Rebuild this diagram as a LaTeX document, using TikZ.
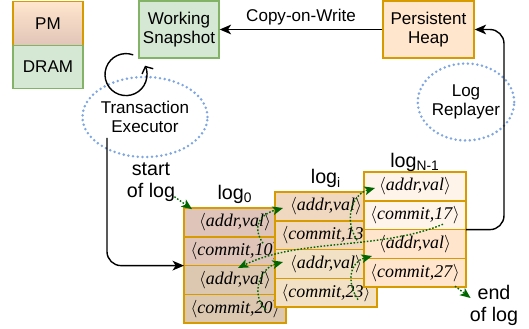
\documentclass[tikz,border=0pt]{standalone}
\usepackage{fontspec}
\setmainfont{Liberation Serif}
\setsansfont{Liberation Sans}
\usepackage{tikz}
\usetikzlibrary{shapes.geometric, arrows.meta, positioning, calc}
\definecolor{pmfill}{HTML}{FFE6CC}
\definecolor{pmdark}{HTML}{E1C5B9}
\definecolor{pmborder}{HTML}{D79B00}
\definecolor{dramfill}{HTML}{D5E8D4}
\definecolor{dramborder}{HTML}{82B366}
\definecolor{dotblue}{HTML}{7EA6E0}
\definecolor{logarrow}{HTML}{006600}
\definecolor{logzero}{HTML}{DFC4B9}
\definecolor{logzerob}{HTML}{DCC8B0}
\definecolor{logone}{HTML}{F0D8C0}
\definecolor{logoneb}{HTML}{F2E1C5}
\definecolor{logtop}{HTML}{FFF4E9}
\definecolor{logtopb}{HTML}{FFE5CC}
\newcommand{\boxfont}{\sffamily\fontsize{9.7}{11}\selectfont}
\newcommand{\labelfont}{\sffamily\fontsize{11.2}{12.5}\selectfont}
\newcommand{\recfont}{\fontsize{10.2}{12}\selectfont}
\newcommand{\logrec}[1]{$\langle$\textit{#1}$\rangle$}

\begin{document}
\begin{tikzpicture}[
    memcell/.style={rectangle, draw=#1, line width=0.8pt, minimum width=1.40cm, minimum height=0.87cm, inner sep=0pt, outer sep=0pt, font=\boxfont},
    unit/.style={rectangle, draw=#1, line width=0.8pt, minimum height=1.14cm, inner sep=0pt, font=\boxfont, align=center},
    worker/.style={ellipse, draw=dotblue, line width=1.6pt, dash pattern=on 0pt off 2.7pt, line cap=round, font=\boxfont, align=center, inner sep=0pt},
    slot/.style={rectangle, draw=pmborder, fill=#1, line width=0.8pt, minimum width=2.04cm, minimum height=0.575cm, inner sep=0pt, outer sep=0pt, font=\recfont},
    tag/.style={font=\labelfont, align=center, inner sep=0pt},
    flow/.style={-{Stealth[length=6.5pt, width=5.5pt, inset=1.8pt]}, line width=0.8pt, rounded corners=8pt},
    chainlink/.style={-{Stealth[length=6pt, width=5pt, inset=1.5pt]}, line width=0.8pt, color=logarrow, dash pattern=on 0.9pt off 1pt},
    selfloop/.style={-{Straight Barb[length=3pt, width=7pt]}, line width=0.8pt}
]
\useasboundingbox (0,0) rectangle (10.58,-6.58);

% legend
\node[memcell=pmborder, top color=pmfill, bottom color=pmdark] (pm) at (0.96,-0.47) {PM};
\node[memcell=dramborder, fill=dramfill, below=0pt of pm] (dram) {DRAM};

% snapshot and heap
\node[unit=dramborder, fill=dramfill, minimum width=1.60cm] (snap) at (3.58,-0.59) {Working\\Snapshot};
\node[unit=pmborder, fill=pmfill, minimum width=1.82cm] (heap) at (8.57,-0.59) {Persistent\\Heap};

\draw[flow] (heap) -- node[above, font=\boxfont, inner sep=2pt] {Copy-on-Write} (snap);

% threads
\node[worker, minimum width=2.24cm, minimum height=1.60cm] (exec) at (2.90,-2.34) {Transaction\\Executor};
\node[worker, minimum width=1.78cm, minimum height=1.54cm] (replay) at (9.32,-2.04) {Log\\Replayer};

\coordinate (loopc) at ($(exec.north)+(-0.38,0.02)$);
\draw[selfloop] ([shift={(70:0.42)}]loopc) arc[start angle=70, end angle=385, radius=0.42];

% log_0
\node[slot=logzero] (b01) at (4.70,-4.45) {\logrec{addr,val}};
\node[slot=logzero, below=0pt of b01] (b02) {\logrec{commit,10}};
\node[slot=logzerob, below=0pt of b02] (b03) {\logrec{addr,val}};
\node[slot=logzerob, below=0pt of b03] (b04) {\logrec{commit,20}};
\node[tag, above=2.3pt of b01] (lbl0) {log\textsubscript{0}};

% log_i
\node[slot=logone] (c01) at (6.52,-4.13) {\logrec{addr,val}};
\node[slot=logone, below=0pt of c01] (c02) {\logrec{commit,13}};
\node[slot=logoneb, below=0pt of c02] (c03) {\logrec{addr,val}};
\node[slot=logoneb, below=0pt of c03] (c04) {\logrec{commit,23}};
\node[tag, above=2.3pt of c01] (lbli) {log\textsubscript{i}};

% log_N-1
\node[slot=logtop] (n01) at (8.30,-3.73) {\logrec{addr,val}};
\node[slot=logtop, below=0pt of n01] (n02) {\logrec{commit,17}};
\node[slot=logtopb, below=0pt of n02] (n03) {\logrec{addr,val}};
\node[slot=logtopb, below=0pt of n03] (n04) {\logrec{commit,27}};
\node[tag, above=0.3pt of n01] (lbln) {log\textsubscript{N-1}};

\node[tag] (startlbl) at (3.02,-3.64) {start\\of log};
\node[tag] (endlbl) at (9.88,-6.10) {end\\of log};

% executor and replayer
\coordinate (execfoot) at (2.14,-2.76);
\draw[flow] (execfoot) |- (b02.south west);
\draw[flow] (n02.south east) -- ++(0.76,0) |- (heap.east);

% log chain
\draw[chainlink] ($(startlbl.south east)+(-0.02,0.1)$) -- ($(b01.north west)+(0.16,-0.02)$);
\draw[chainlink] ($(b02.east)+(-0.46,0.16)$) .. controls +(-0.24,0.36) and +(-0.44,-0.12) .. ($(c01.west)+(0.16,-0.03)$);
\draw[chainlink] ($(c02.east)+(-0.40,-0.10)$) .. controls +(-0.28,0.44) and +(-0.44,-0.12) .. ($(n01.west)+(0.22,-0.03)$);
\draw[chainlink] ($(n02.east)+(-0.46,-0.18)$) .. controls +(-1.26,-0.52) and +(1.24,0.60) .. ($(b03)+(0.06,0.24)$);
\draw[chainlink] ($(b04.east)+(-0.40,-0.02)$) .. controls +(-0.32,0.30) and +(-0.46,-0.12) .. ($(c03.west)+(0.16,0.04)$);
\draw[chainlink] ($(c04.east)+(-0.38,-0.14)$) .. controls +(-0.24,0.36) and +(-0.44,-0.12) .. ($(n03.west)+(0.16,-0.24)$);
\draw[chainlink] ($(n04.south east)+(-0.22,0.02)$) -- ($(endlbl.west)+(0.02,0.14)$);

\end{tikzpicture}
\end{document}
